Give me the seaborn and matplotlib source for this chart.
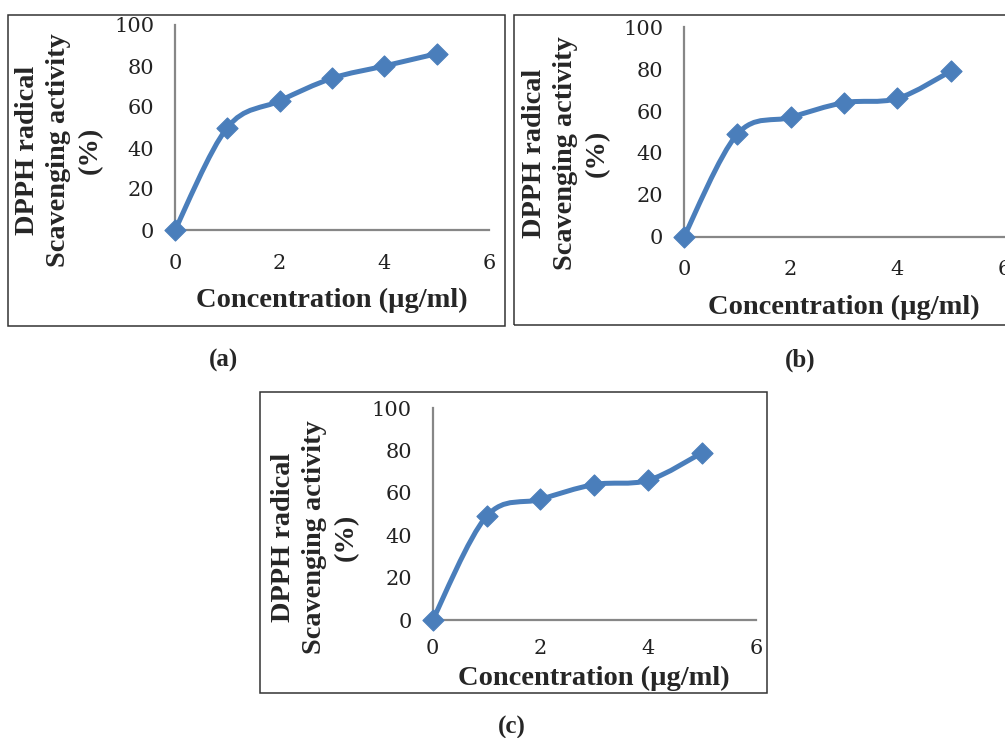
import numpy as np
import pandas as pd
import matplotlib
matplotlib.use("Agg")
import matplotlib.pyplot as plt
import seaborn as sns
from matplotlib.path import Path
from matplotlib.patches import PathPatch, Rectangle

# concentration (ug/ml) and DPPH scavenging (%) for each panel
conc = [0, 1, 2, 3, 4, 5]
scav_a = [0, 50, 63, 74, 80, 86]
scav_b = [0, 49, 57, 64, 66, 79]
scav_c = [0, 49, 57, 64, 66, 79]
panel_names = ["(a)", "(b)", "(c)"]
x_ticks = [0, 2, 4, 6]
y_ticks = [0, 20, 40, 60, 80, 100]

BLUE = "#4A7EBB"
GREY = "#878787"

sns.set_style("white")
plt.rcParams["font.family"] = ["Liberation Serif", "DejaVu Serif"]

W, H = 1005, 738
fig = plt.figure(figsize=(W / 100, H / 100), dpi=100)


def fx(px):
    return px / W


def fy(py):
    return 1 - py / H


def smooth_path(x, y):
    # excel-like smoothed line (catmull-rom as cubic bezier)
    pts = np.column_stack([x, y]).astype(float)
    n = len(pts)
    verts = [pts[0]]
    codes = [Path.MOVETO]
    for i in range(n - 1):
        p0 = pts[i - 1] if i > 0 else pts[i]
        p1 = pts[i]
        p2 = pts[i + 1]
        p3 = pts[i + 2] if i + 2 < n else pts[i + 1]
        c1 = p1 + (p2 - p0) / 6.0
        c2 = p2 - (p3 - p1) / 6.0
        verts += [c1, c2, p2]
        codes += [Path.CURVE4] * 3
    return Path(verts, codes)


def draw_panel(ax, values, xpad):
    df = pd.DataFrame({"conc": conc, "scav": values})
    ax.add_patch(PathPatch(smooth_path(df["conc"], df["scav"]), fill=False,
                           edgecolor=BLUE, lw=3.6, capstyle="round",
                           joinstyle="round", zorder=2, clip_on=False))
    sns.scatterplot(data=df, x="conc", y="scav", ax=ax, marker="D", s=115,
                    color=BLUE, edgecolor=BLUE, zorder=3, clip_on=False,
                    legend=False)
    ax.set_xlim(0, 6)
    ax.set_ylim(0, 100)
    ax.set_xticks(x_ticks)
    ax.set_yticks(y_ticks)
    ax.set_xlabel("")
    ax.set_ylabel("")
    sns.despine(ax=ax)
    for s in ["left", "bottom"]:
        ax.spines[s].set_color(GREY)
        ax.spines[s].set_linewidth(1.6)
    ax.tick_params(axis="both", direction="out", length=5, width=1.4,
                   color=GREY, labelsize=15, pad=10, labelcolor="#222222")
    ax.tick_params(axis="x", pad=xpad)
    for lab in ax.get_xticklabels() + ax.get_yticklabels():
        lab.set_family("DejaVu Serif")
    ax.set_facecolor("none")


# axes rectangles taken from the reference layout (pixels)
layout = [
    # x0, x6, y0, y100
    (175, 489, 230, 25),
    (684, 1004, 236.7, 27.3),
    (432.7, 756, 620, 408.3),
]
series = [scav_a, scav_b, scav_c]
xpads = [12, 12, 9]
ylab_pos = [(59, 150), (566, 153), (315, 537)]
xlab_pos = [(332, 300), (844, 307), (594, 678)]
name_pos = [(223, 360), (800, 360), (512, 727)]
boxes = [(8, 15, 505, 326), (514, 15, 1010, 325), (260, 392, 767, 693)]

for (x0, x6, y0, y100), vals, xp in zip(layout, series, xpads):
    ax = fig.add_axes([fx(x0), fy(y0), fx(x6) - fx(x0), (y0 - y100) / H])
    draw_panel(ax, vals, xp)

for (l, t, r, b) in boxes:
    fig.patches.append(Rectangle((fx(l), fy(b)), fx(r) - fx(l), (b - t) / H,
                                 transform=fig.transFigure, fill=False,
                                 edgecolor="#333333", lw=1.1, zorder=0))

for (px, py) in ylab_pos:
    fig.text(fx(px), fy(py), "DPPH radical\nScavenging activity\n(%)",
             rotation=90, ha="center", va="center", fontsize=20.4,
             fontweight="bold", linespacing=1.35)

for (px, py) in xlab_pos:
    fig.text(fx(px), fy(py), "Concentration (\u00b5g/ml)", ha="center",
             va="center", fontsize=20.5, fontweight="bold")

for name, (px, py) in zip(panel_names, name_pos):
    fig.text(fx(px), fy(py), name, ha="center", va="center", fontsize=18,
             fontweight="bold")

fig.savefig("out.png", dpi=100)
